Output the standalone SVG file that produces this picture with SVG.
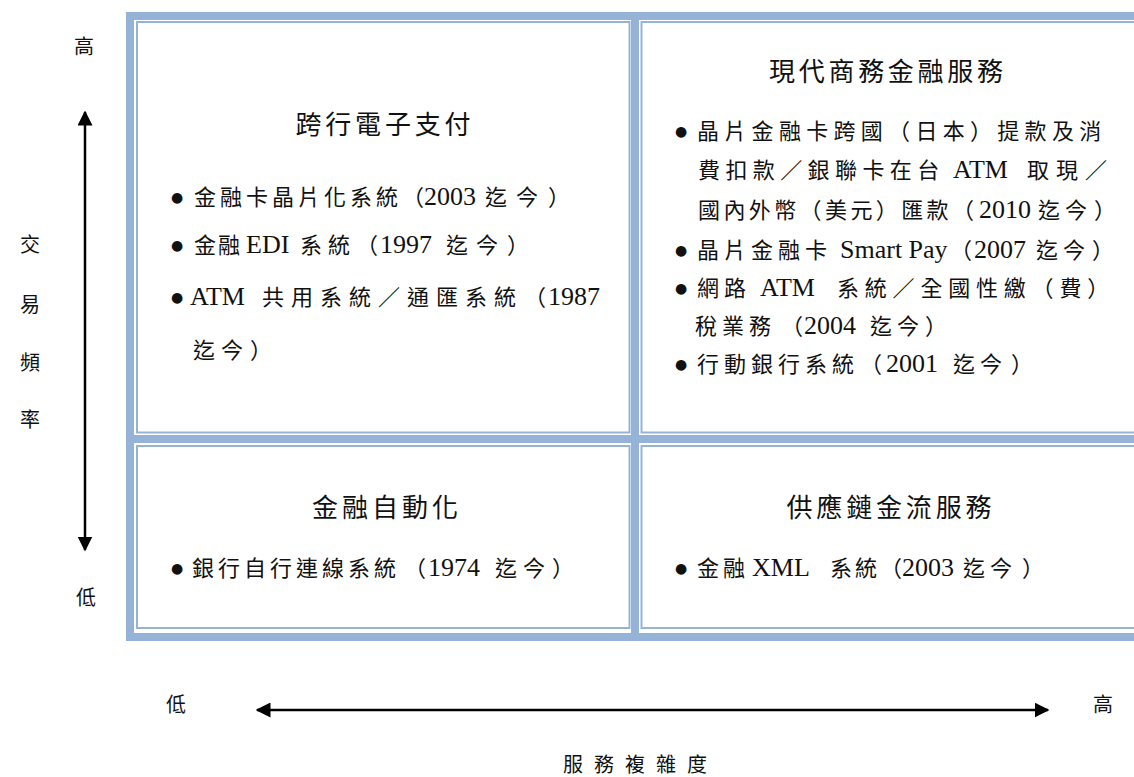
<svg xmlns="http://www.w3.org/2000/svg" width="1134" height="777" viewBox="0 0 1134 777">
<defs>
<style>
.band{fill:#95B3D7;}
.thin{fill:none;stroke:#95B3D7;stroke-width:2;}
.title{font-family:"Noto Sans CJK TC","Noto Sans",sans-serif;font-size:26px;fill:#111;text-anchor:middle;}
.body{font-family:"Liberation Serif","Noto Sans CJK TC",serif;font-size:22px;fill:#111;}
.lat{font-family:"Liberation Serif",serif;font-size:26px;letter-spacing:0;}
.bul{font-family:"DejaVu Sans",sans-serif;font-size:14px;fill:#111;}
.axis{font-family:"Liberation Serif","Noto Sans CJK TC",serif;font-size:20px;fill:#111;text-anchor:middle;}
.arr{stroke:#000;stroke-width:2.5;fill:none;}
</style>
<marker id="ah" viewBox="0 0 10 10" refX="9" refY="5" markerWidth="6" markerHeight="6" markerUnits="strokeWidth" orient="auto-start-reverse">
<path d="M0,0 L10,5 L0,10 z" fill="#000"/>
</marker>
</defs>
<rect width="1134" height="777" fill="#fff"/>

<g id="frame">
<rect class="band" x="126" y="12" width="1010" height="8"/>
<rect class="band" x="126" y="435" width="1010" height="8"/>
<rect class="band" x="126" y="633" width="1010" height="8"/>
<rect class="band" x="126" y="12" width="8" height="629"/>
<rect class="band" x="631" y="12" width="8" height="629"/>
</g>

<g id="cell-tl">
<rect class="thin" x="137" y="22" width="492.5" height="410.5"/>
<text class="title" x="383" y="134" textLength="175" lengthAdjust="spacing">跨行電子支付</text>
<text class="bul" x="171" y="202">●</text>
<text class="body" y="205"><tspan x="194" letter-spacing="4">金融卡晶片化系統</tspan><tspan x="402">（</tspan><tspan class="lat" x="424">2003</tspan><tspan x="485" letter-spacing="9">迄今</tspan><tspan x="548">）</tspan></text>
<text class="bul" x="171" y="250">●</text>
<text class="body" y="253"><tspan x="194" letter-spacing="2">金融</tspan><tspan class="lat" x="246">EDI</tspan><tspan x="300" letter-spacing="6">系統</tspan><tspan x="356">（</tspan><tspan class="lat" x="380">1997</tspan><tspan x="446" letter-spacing="8">迄今</tspan><tspan x="507">）</tspan></text>
<text class="bul" x="171" y="302">●</text>
<text class="body" y="305"><tspan class="lat" x="190">ATM</tspan><tspan x="262" letter-spacing="7">共用系統／通匯系統</tspan><tspan x="524">（</tspan><tspan class="lat" x="548">1987</tspan></text>
<text class="body" y="358"><tspan x="193" letter-spacing="6">迄今</tspan><tspan x="250">）</tspan></text>
</g>

<g id="cell-tr">
<rect class="thin" x="641.5" y="22" width="500" height="410.5"/>
<text class="title" x="886" y="81" textLength="234" lengthAdjust="spacing">現代商務金融服務</text>
<text class="bul" x="675" y="136">●</text>
<text class="body" y="139"><tspan x="697" letter-spacing="5.3">晶片金融卡跨國（日本）提款及消</tspan></text>
<text class="body" y="178"><tspan x="698" letter-spacing="5.4">費扣款／銀聯卡在台</tspan><tspan class="lat" x="953">ATM</tspan><tspan x="1027" letter-spacing="7">取現／</tspan></text>
<text class="body" y="218"><tspan x="698" letter-spacing="3.4">國內外幣（美元）匯款（</tspan><tspan class="lat" x="979">2010</tspan><tspan x="1038" letter-spacing="5">迄今</tspan><tspan x="1094">）</tspan></text>
<text class="bul" x="675" y="255">●</text>
<text class="body" y="258"><tspan x="697" letter-spacing="5">晶片金融卡</tspan><tspan class="lat" x="840">Smart Pay</tspan><tspan x="950">（</tspan><tspan class="lat" x="974">2007</tspan><tspan x="1036" letter-spacing="5">迄今</tspan><tspan x="1092">）</tspan></text>
<text class="bul" x="675" y="293">●</text>
<text class="body" y="296"><tspan x="697" letter-spacing="5">網路</tspan><tspan class="lat" x="760">ATM</tspan><tspan x="837" letter-spacing="5.8">系統／全國性繳（費）</tspan></text>
<text class="body" y="334"><tspan x="695" letter-spacing="5">稅業務</tspan><tspan x="781">（</tspan><tspan class="lat" x="804">2004</tspan><tspan x="870" letter-spacing="5">迄今</tspan><tspan x="925">）</tspan></text>
<text class="bul" x="675" y="369">●</text>
<text class="body" y="372"><tspan x="697" letter-spacing="5">行動銀行系統</tspan><tspan x="860">（</tspan><tspan class="lat" x="886">2001</tspan><tspan x="953" letter-spacing="5">迄今</tspan><tspan x="1011">）</tspan></text>
</g>

<g id="cell-bl">
<rect class="thin" x="137" y="446" width="492.5" height="182"/>
<text class="title" x="385" y="517" textLength="146" lengthAdjust="spacing">金融自動化</text>
<text class="bul" x="171" y="573">●</text>
<text class="body" y="576"><tspan x="192" letter-spacing="4">銀行自行連線系統</tspan><tspan x="404">（</tspan><tspan class="lat" x="428">1974</tspan><tspan x="495" letter-spacing="6">迄今</tspan><tspan x="552">）</tspan></text>
</g>

<g id="cell-br">
<rect class="thin" x="641.5" y="446" width="500" height="182"/>
<text class="title" x="889" y="517" textLength="205" lengthAdjust="spacing">供應鏈金流服務</text>
<text class="bul" x="675" y="573">●</text>
<text class="body" y="576"><tspan x="697" letter-spacing="4">金融</tspan><tspan class="lat" x="752">XML</tspan><tspan x="830" letter-spacing="3">系統</tspan><tspan x="880">（</tspan><tspan class="lat" x="902">2003</tspan><tspan x="963" letter-spacing="5">迄今</tspan><tspan x="1022">）</tspan></text>
</g>

<g id="axis-y">
<text class="axis" x="84" y="54">高</text>
<text class="axis" x="30" y="252">交</text>
<text class="axis" x="30" y="312">易</text>
<text class="axis" x="30" y="370">頻</text>
<text class="axis" x="30" y="427">率</text>
<text class="axis" x="86" y="605">低</text>
</g>

<g id="axis-x">
<text class="axis" x="176" y="712">低</text>
<text class="axis" x="1103" y="712">高</text>
<text class="axis" x="563" y="772" letter-spacing="11" style="text-anchor:start">服務複雜度</text>
</g>

<g id="connectors">
<line class="arr" x1="85" y1="112" x2="85" y2="550" marker-start="url(#ah)" marker-end="url(#ah)"/>
<line class="arr" x1="257" y1="710" x2="1048" y2="710" marker-start="url(#ah)" marker-end="url(#ah)"/>
</g>
</svg>
